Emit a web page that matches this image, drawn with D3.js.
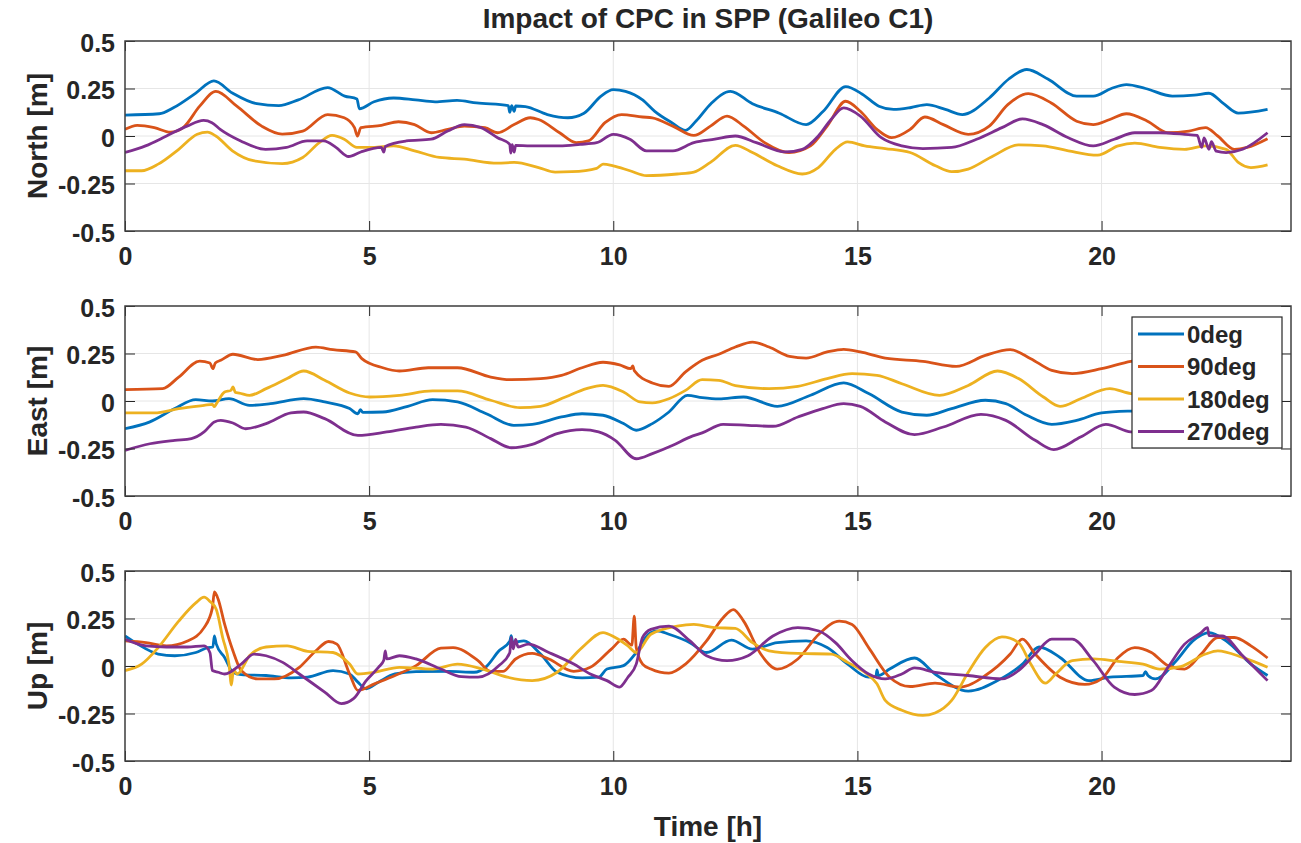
<!DOCTYPE html>
<html><head><meta charset="utf-8">
<script src="https://cdn.jsdelivr.net/npm/d3@7"></script>
<style>body{margin:0;background:#fff}svg text{font-family:"Liberation Sans",Arial,Helvetica,sans-serif;font-weight:bold;fill:#262626}</style>
</head><body><svg id="c" width="1301" height="843"></svg>
<script>
const title = "Impact of CPC in SPP (Galileo C1)";
const seriesNames = ["0deg","90deg","180deg","270deg"];
const colors = ["#0072BD","#D95319","#EDB120","#7E2F8E"];
const panelLabels = ["North [m]","East [m]","Up [m]"];
const xLabel = "Time [h]";
const xTicks = [0,5,10,15,20];
const yTicks = [-0.5,-0.25,0,0.25,0.5];
const yTickLabels = ["-0.5","-0.25","0","0.25","0.5"];
const xDomain = [0, 23.88];
const yDomain = [-0.5, 0.5];

// North [m]
const north0 = [[0,0.11],[0.7,0.117],[1.0,0.15],[1.45,0.226],[1.82,0.29],[2.2,0.226],[2.7,0.17],[3.15,0.16],[3.55,0.19],[4.15,0.255],[4.5,0.21],[4.75,0.195],[4.8,0.143],[5.1,0.18],[5.5,0.2],[5.95,0.19],[6.35,0.18],[6.8,0.188],[7.2,0.174],[7.85,0.16],[7.88,0.125],[7.92,0.16],[7.97,0.13],[8.0,0.158],[8.2,0.155],[8.65,0.113],[9.07,0.096],[9.4,0.12],[9.75,0.21],[10.0,0.244],[10.25,0.235],[10.6,0.19],[10.85,0.13],[11.2,0.07],[11.48,0.03],[11.7,0.08],[12.0,0.17],[12.4,0.235],[12.85,0.17],[13.4,0.12],[13.95,0.06],[14.3,0.13],[14.76,0.26],[15.1,0.22],[15.44,0.157],[15.74,0.14],[16.1,0.15],[16.42,0.165],[16.8,0.14],[17.15,0.113],[17.7,0.2],[18.1,0.3],[18.47,0.35],[18.9,0.3],[19.49,0.21],[19.83,0.21],[20.2,0.25],[20.51,0.27],[20.9,0.25],[21.45,0.21],[21.9,0.215],[22.2,0.225],[22.5,0.17],[22.8,0.12],[23.4,0.14]];
const north90 = [[0,0.035],[0.25,0.056],[0.6,0.044],[0.93,0.02],[1.19,0.044],[1.53,0.157],[1.86,0.235],[2.29,0.157],[2.8,0.052],[3.22,0.01],[3.64,0.026],[4.15,0.113],[4.49,0.096],[4.7,0.044],[4.76,0.0],[4.83,0.044],[5.25,0.056],[5.6,0.075],[5.93,0.06],[6.27,0.017],[6.61,0.035],[6.95,0.052],[7.37,0.044],[7.63,0.017],[7.97,0.06],[8.3,0.096],[8.47,0.087],[8.9,0.017],[9.24,-0.035],[9.49,-0.026],[9.83,0.07],[10.17,0.113],[10.6,0.1],[10.8,0.096],[11.22,0.052],[11.65,0.003],[11.99,0.052],[12.33,0.105],[12.67,0.052],[13.1,-0.035],[13.6,-0.087],[14.04,-0.052],[14.38,0.052],[14.76,0.183],[15.06,0.13],[15.4,0.035],[15.7,-0.009],[16.08,0.035],[16.38,0.1],[16.76,0.06],[17.27,0.009],[17.7,0.052],[18.08,0.165],[18.5,0.223],[18.97,0.174],[19.49,0.078],[19.83,0.06],[20.17,0.087],[20.51,0.117],[20.94,0.078],[21.36,0.017],[21.79,0.026],[22.13,0.044],[22.38,0.0],[22.72,-0.07],[22.98,-0.06],[23.4,-0.014]];
const north180 = [[0,-0.183],[0.34,-0.183],[0.68,-0.148],[1.1,-0.07],[1.48,0.009],[1.69,0.02],[1.86,0.0],[2.2,-0.078],[2.63,-0.13],[3.22,-0.145],[3.64,-0.113],[3.98,-0.035],[4.24,0.003],[4.49,-0.017],[4.75,-0.06],[5.08,-0.06],[5.5,-0.052],[5.93,-0.078],[6.44,-0.113],[6.95,-0.122],[7.63,-0.143],[7.97,-0.139],[8.47,-0.166],[8.81,-0.19],[9.15,-0.188],[9.66,-0.17],[9.79,-0.148],[10.0,-0.157],[10.34,-0.183],[10.68,-0.209],[11.31,-0.2],[11.65,-0.19],[11.99,-0.139],[12.5,-0.049],[12.85,-0.087],[13.36,-0.157],[13.87,-0.2],[14.2,-0.166],[14.55,-0.07],[14.8,-0.031],[15.15,-0.052],[15.57,-0.066],[16.08,-0.087],[16.6,-0.157],[16.93,-0.188],[17.27,-0.174],[17.78,-0.105],[18.3,-0.047],[18.8,-0.052],[19.32,-0.078],[19.92,-0.101],[20.34,-0.052],[20.68,-0.038],[21.19,-0.06],[21.7,-0.07],[22.13,-0.052],[22.55,-0.07],[22.8,-0.139],[23.06,-0.166],[23.4,-0.152]];
const north270 = [[0,-0.087],[0.42,-0.052],[0.85,0.0],[1.27,0.052],[1.61,0.082],[1.78,0.07],[1.95,0.035],[2.37,-0.026],[2.88,-0.07],[3.31,-0.06],[3.73,-0.026],[4.07,-0.026],[4.32,-0.06],[4.58,-0.108],[4.83,-0.084],[5.25,-0.06],[5.3,-0.085],[5.33,-0.055],[5.76,-0.026],[6.27,-0.017],[6.61,0.026],[6.95,0.06],[7.29,0.044],[7.63,-0.009],[7.88,-0.044],[7.9,-0.09],[7.93,-0.045],[7.97,-0.085],[8.0,-0.05],[8.3,-0.052],[8.9,-0.052],[9.32,-0.044],[9.66,-0.035],[10.0,0.009],[10.34,-0.017],[10.68,-0.078],[11.22,-0.078],[11.65,-0.035],[12.08,-0.017],[12.5,0.0],[12.93,-0.035],[13.52,-0.084],[13.87,-0.07],[14.2,0.0],[14.46,0.087],[14.72,0.148],[15.06,0.105],[15.49,-0.009],[15.91,-0.052],[16.34,-0.066],[16.93,-0.06],[17.44,-0.017],[17.96,0.044],[18.38,0.09],[18.8,0.06],[19.32,-0.009],[19.83,-0.052],[20.26,-0.017],[20.68,0.017],[21.19,0.017],[21.7,0.009],[21.96,0.003],[22.05,-0.06],[22.1,-0.01],[22.2,-0.07],[22.25,-0.03],[22.35,-0.08],[22.55,-0.087],[22.89,-0.07],[23.4,0.017]];

// East [m]
const east0 = [[0,-0.146],[0.51,-0.11],[1.02,-0.04],[1.45,0.007],[1.79,0.0],[2.13,0.012],[2.55,-0.023],[2.98,-0.014],[3.66,0.012],[4.09,-0.005],[4.6,-0.04],[4.77,-0.067],[4.82,-0.045],[4.87,-0.06],[5.28,-0.058],[5.79,-0.028],[6.3,0.007],[6.81,-0.005],[7.4,-0.067],[7.96,-0.128],[8.34,-0.123],[8.94,-0.084],[9.36,-0.067],[9.79,-0.075],[10.21,-0.119],[10.47,-0.154],[10.8,-0.119],[11.14,-0.058],[11.52,0.03],[11.82,0.018],[12.16,0.011],[12.67,0.021],[13.36,-0.028],[14.04,0.03],[14.72,0.095],[15.23,0.039],[15.91,-0.058],[16.42,-0.075],[16.93,-0.04],[17.62,0.004],[18.04,-0.014],[18.47,-0.075],[18.98,-0.123],[19.49,-0.102],[20.0,-0.063],[20.6,-0.053],[21.2,-0.05]];
const east90 = [[0,0.06],[0.77,0.065],[1.1,0.126],[1.53,0.21],[1.74,0.2],[1.8,0.17],[1.85,0.2],[1.96,0.214],[2.21,0.246],[2.72,0.218],[3.23,0.24],[3.91,0.284],[4.26,0.27],[4.72,0.258],[4.85,0.223],[5.28,0.175],[5.62,0.158],[6.21,0.175],[6.81,0.175],[7.49,0.126],[7.91,0.112],[8.51,0.118],[8.94,0.135],[9.36,0.175],[9.79,0.204],[10.13,0.19],[10.36,0.17],[10.4,0.185],[10.43,0.16],[10.8,0.095],[11.14,0.077],[11.48,0.153],[11.82,0.214],[12.16,0.246],[12.5,0.284],[12.85,0.31],[13.19,0.284],[13.61,0.235],[13.95,0.226],[14.38,0.258],[14.72,0.272],[15.06,0.258],[15.57,0.226],[16.34,0.209],[17.02,0.182],[17.62,0.24],[18.13,0.27],[18.55,0.223],[18.98,0.161],[19.4,0.144],[20.0,0.17],[20.6,0.209],[21.2,0.23]];
const east180 = [[0,-0.063],[0.6,-0.063],[1.1,-0.04],[1.62,-0.023],[1.79,-0.018],[1.83,-0.03],[1.87,-0.015],[2.04,0.047],[2.17,0.056],[2.21,0.074],[2.26,0.045],[2.34,0.042],[2.55,0.03],[2.89,0.065],[3.32,0.118],[3.66,0.158],[4.09,0.109],[4.6,0.042],[5.02,0.021],[5.62,0.03],[6.3,0.053],[6.81,0.053],[7.49,0.004],[8.09,-0.035],[8.51,-0.028],[9.02,0.021],[9.45,0.065],[9.79,0.082],[10.21,0.047],[10.55,-0.005],[10.8,-0.01],[11.14,0.012],[11.48,0.056],[11.82,0.112],[12.16,0.109],[12.5,0.081],[13.19,0.065],[13.78,0.077],[14.38,0.118],[14.89,0.144],[15.4,0.135],[15.91,0.091],[16.68,0.03],[17.27,0.082],[17.87,0.158],[18.3,0.118],[18.81,0.021],[19.15,-0.028],[19.57,0.012],[20.17,0.065],[20.6,0.039],[21.2,0.03]];
const east270 = [[0,-0.26],[0.51,-0.225],[1.02,-0.207],[1.36,-0.198],[1.62,-0.163],[1.83,-0.11],[1.96,-0.102],[2.21,-0.116],[2.47,-0.146],[2.89,-0.119],[3.4,-0.063],[3.66,-0.058],[4.09,-0.093],[4.77,-0.181],[5.36,-0.163],[5.96,-0.137],[6.47,-0.123],[6.98,-0.137],[7.49,-0.198],[7.91,-0.246],[8.34,-0.228],[8.85,-0.172],[9.36,-0.151],[9.7,-0.163],[10.04,-0.207],[10.47,-0.304],[10.8,-0.277],[11.22,-0.233],[11.57,-0.19],[11.82,-0.168],[12.25,-0.123],[12.76,-0.128],[13.27,-0.133],[13.78,-0.084],[14.29,-0.04],[14.72,-0.014],[15.06,-0.028],[15.57,-0.11],[16.17,-0.177],[16.76,-0.137],[17.53,-0.07],[18.04,-0.102],[18.64,-0.207],[19.02,-0.256],[19.57,-0.19],[20.09,-0.123],[20.6,-0.163],[21.2,-0.17]];

// Up [m]
const up0 = [[0,0.158],[0.26,0.115],[0.68,0.063],[1.02,0.054],[1.45,0.071],[1.7,0.097],[1.8,0.1],[1.83,0.158],[1.87,0.115],[2.04,0.045],[2.21,-0.033],[2.38,-0.045],[2.89,-0.05],[3.4,-0.063],[3.74,-0.059],[4.26,-0.024],[4.6,-0.042],[4.77,-0.085],[4.94,-0.12],[5.19,-0.085],[5.53,-0.042],[5.96,-0.03],[6.64,-0.028],[7.15,-0.033],[7.4,-0.003],[7.66,0.08],[7.88,0.13],[7.91,0.16],[7.94,0.125],[8.17,0.132],[8.51,0.063],[8.85,-0.033],[9.36,-0.063],[9.7,-0.059],[9.87,-0.016],[10.21,0.002],[10.47,0.071],[10.72,0.167],[10.9,0.185],[11.14,0.167],[11.57,0.123],[11.91,0.071],[12.42,0.136],[12.85,0.089],[13.36,0.123],[13.95,0.132],[14.38,0.097],[14.8,0.01],[15.23,-0.059],[15.38,-0.055],[15.4,-0.02],[15.43,-0.05],[15.66,-0.016],[16.17,0.042],[16.59,-0.042],[17.27,-0.132],[17.87,-0.077],[18.38,0.01],[18.72,0.1],[19.15,0.045],[19.74,-0.077],[20.17,-0.059],[20.85,-0.05],[20.9,-0.03],[20.95,-0.05],[21.1,-0.068],[21.53,0.028],[21.87,0.132],[22.21,0.176],[22.55,0.132],[23.06,0.01],[23.4,-0.05]];
const up90 = [[0,0.132],[0.43,0.123],[0.85,0.106],[1.28,0.132],[1.62,0.202],[1.79,0.306],[1.83,0.39],[1.91,0.35],[2.04,0.22],[2.21,0.08],[2.38,-0.024],[2.72,-0.068],[3.06,-0.068],[3.57,-0.007],[3.91,0.08],[4.17,0.129],[4.34,0.115],[4.6,-0.042],[4.77,-0.129],[5.11,-0.094],[5.53,-0.05],[5.96,0.002],[6.47,0.094],[6.72,0.097],[7.23,0.028],[7.49,-0.028],[7.74,-0.028],[8.0,0.037],[8.34,0.066],[8.68,0.037],[9.19,-0.028],[9.53,-0.007],[9.96,0.089],[10.21,0.141],[10.38,0.11],[10.43,0.263],[10.47,0.097],[10.6,0.01],[10.77,-0.016],[11.14,-0.038],[11.48,0.01],[11.91,0.132],[12.25,0.254],[12.46,0.297],[12.67,0.236],[13.02,0.063],[13.36,-0.016],[13.78,0.037],[14.21,0.167],[14.63,0.236],[14.89,0.219],[15.23,0.097],[15.66,-0.059],[16.08,-0.108],[16.59,-0.09],[17.1,-0.111],[17.62,-0.05],[18.13,0.063],[18.38,0.141],[18.64,0.063],[19.15,-0.059],[19.66,-0.097],[20.0,-0.068],[20.34,0.045],[20.68,0.097],[21.02,0.071],[21.36,0.002],[21.7,-0.016],[22.04,0.063],[22.38,0.15],[22.72,0.15],[23.06,0.106],[23.4,0.042]];
const up180 = [[0,-0.024],[0.34,0.01],[0.68,0.097],[1.1,0.236],[1.45,0.332],[1.62,0.362],[1.74,0.34],[1.87,0.297],[2.0,0.15],[2.13,0.01],[2.18,-0.1],[2.22,-0.02],[2.3,-0.042],[2.55,0.054],[2.89,0.1],[3.32,0.106],[3.74,0.077],[4.26,0.071],[4.6,0.01],[4.77,-0.042],[5.11,-0.033],[5.62,-0.007],[6.3,-0.016],[6.81,0.01],[7.32,-0.016],[7.83,-0.059],[8.34,-0.077],[8.85,-0.033],[9.36,0.097],[9.79,0.176],[10.04,0.15],[10.3,0.106],[10.47,0.071],[10.77,0.167],[11.31,0.21],[11.65,0.219],[12.08,0.202],[12.5,0.198],[12.85,0.123],[13.19,0.08],[13.78,0.066],[14.46,0.063],[14.8,0.019],[15.15,-0.033],[15.4,-0.094],[15.57,-0.181],[15.91,-0.233],[16.34,-0.26],[16.59,-0.247],[16.93,-0.181],[17.27,-0.033],[17.62,0.097],[17.96,0.153],[18.3,0.123],[18.55,0.01],[18.85,-0.09],[19.06,-0.042],[19.4,0.028],[19.83,0.037],[20.34,0.024],[20.85,0.01],[21.19,-0.016],[21.62,-0.003],[22.13,0.063],[22.38,0.08],[22.89,0.045],[23.4,-0.007]];
const up270 = [[0,0.141],[0.43,0.106],[0.85,0.1],[1.28,0.1],[1.62,0.106],[1.74,0.07],[1.79,-0.024],[1.91,-0.033],[2.04,-0.042],[2.38,0.01],[2.64,0.063],[2.89,0.054],[3.23,0.019],[3.57,-0.042],[4.09,-0.137],[4.43,-0.198],[4.68,-0.172],[4.94,-0.077],[5.19,-0.007],[5.3,0.03],[5.33,0.08],[5.36,0.037],[5.62,0.054],[5.96,0.037],[6.47,-0.016],[6.89,-0.056],[7.23,-0.059],[7.66,0.002],[7.88,0.07],[7.91,0.15],[7.95,0.09],[8.0,0.14],[8.05,0.1],[8.26,0.115],[8.68,0.071],[9.19,0.01],[9.53,-0.042],[9.87,-0.077],[10.13,-0.111],[10.3,-0.059],[10.47,0.01],[10.6,0.15],[10.77,0.193],[11.14,0.21],[11.57,0.132],[11.91,0.054],[12.33,0.028],[12.76,0.054],[13.27,0.158],[13.78,0.202],[14.21,0.184],[14.55,0.123],[14.89,0.028],[15.23,-0.042],[15.57,-0.068],[15.91,-0.042],[16.17,-0.01],[16.59,-0.033],[17.27,-0.05],[17.96,-0.068],[18.3,-0.024],[18.64,0.063],[18.98,0.141],[19.4,0.141],[19.83,0.028],[20.26,-0.111],[20.68,-0.15],[21.02,-0.129],[21.36,-0.007],[21.7,0.115],[22.04,0.176],[22.17,0.202],[22.2,0.16],[22.47,0.158],[22.89,0.054],[23.4,-0.077]];

const panels = [
  {label: panelLabels[0], series: [north0, north90, north180, north270]},
  {label: panelLabels[1], series: [east0, east90, east180, east270], legend: true},
  {label: panelLabels[2], series: [up0, up90, up180, up270], xlabel: true}
];

const svg = d3.select("#c");
const L = 125, R = 1291, H = 190;
const tops = [41, 306, 571];
const x = d3.scaleLinear().domain(xDomain).range([L, R]);
const axisColor = "#262626";

svg.append("text").attr("x", (L+R)/2).attr("y", 28).attr("text-anchor","middle")
  .style("font-size","28px").text(title);

panels.forEach((p, i) => {
  const top = tops[i], bot = top + H;
  const y = d3.scaleLinear().domain(yDomain).range([bot, top]);
  const g = svg.append("g");
  const cid = "clip" + i;
  svg.append("clipPath").attr("id", cid).append("rect").attr("x", L).attr("y", top).attr("width", R-L).attr("height", H);
  // grid
  g.selectAll(".gx").data(xTicks).join("line").attr("x1", d=>x(d)).attr("x2", d=>x(d)).attr("y1", top).attr("y2", bot)
    .attr("stroke", "#e6e6e6").attr("stroke-width", 1);
  g.selectAll(".gy").data(yTicks).join("line").attr("y1", d=>y(d)).attr("y2", d=>y(d)).attr("x1", L).attr("x2", R)
    .attr("stroke", "#e6e6e6").attr("stroke-width", 1);
  // lines
  const line = d3.line().x(d=>x(d[0])).y(d=>y(d[1])).curve(d3.curveMonotoneX);
  const lg = g.append("g").attr("clip-path", `url(#${cid})`);
  p.series.forEach((s, k) => {
    lg.append("path").attr("d", line(s)).attr("fill","none").attr("stroke", colors[k])
      .attr("stroke-width", 2.8).attr("stroke-linejoin","round");
  });
  // axes (ticks inward)
  const tl = 10;
  const ax = g.append("g").attr("transform", `translate(0,${bot})`)
    .call(d3.axisBottom(x).tickValues(xTicks).tickSize(-tl).tickPadding(16).tickFormat(d3.format("d")));
  const axT = g.append("g").attr("transform", `translate(0,${top})`)
    .call(d3.axisTop(x).tickValues(xTicks).tickSize(-tl).tickFormat(""));
  const ay = g.append("g").attr("transform", `translate(${L},0)`)
    .call(d3.axisLeft(y).tickValues(yTicks).tickSize(-tl).tickPadding(10).tickFormat((d,j)=>yTickLabels[j]));
  const ayR = g.append("g").attr("transform", `translate(${R},0)`)
    .call(d3.axisRight(y).tickValues(yTicks).tickSize(-tl).tickFormat(""));
  [ax, axT, ay, ayR].forEach(a => {
    a.select(".domain").remove();
    a.selectAll(".tick line").attr("stroke", axisColor).attr("stroke-width", 1);
    a.selectAll(".tick text").style("font-size","25px").attr("fill", axisColor);
  });
  ay.selectAll(".tick text").attr("dy","0.4em");
  g.append("rect").attr("x", L).attr("y", top).attr("width", R-L).attr("height", H)
    .attr("fill","none").attr("stroke", "#404040").attr("stroke-width", 1.5);
  // y label
  svg.append("text").attr("transform", `translate(47,${(top+bot)/2}) rotate(-90)`)
    .attr("text-anchor","middle").style("font-size","28px").text(p.label);
  if (p.xlabel) {
    svg.append("text").attr("x", (L+R)/2).attr("y", 836).attr("text-anchor","middle")
      .style("font-size","28px").text(xLabel);
  }
  if (p.legend) {
    const lx = 1132, ly = 317, lw = 150, lh = 131;
    const leg = svg.append("g");
    leg.append("rect").attr("x", lx).attr("y", ly).attr("width", lw).attr("height", lh)
      .attr("fill","#fff").attr("stroke", axisColor).attr("stroke-width", 1.2);
    seriesNames.forEach((n, k) => {
      const cy = ly + 17 + k*32.5;
      leg.append("line").attr("x1", lx+6).attr("x2", lx+52).attr("y1", cy).attr("y2", cy)
        .attr("stroke", colors[k]).attr("stroke-width", 2.8);
      leg.append("text").attr("x", lx+55).attr("y", cy).attr("dy","0.36em")
        .style("font-size","24px").text(n);
    });
  }
});
</script></body></html>
